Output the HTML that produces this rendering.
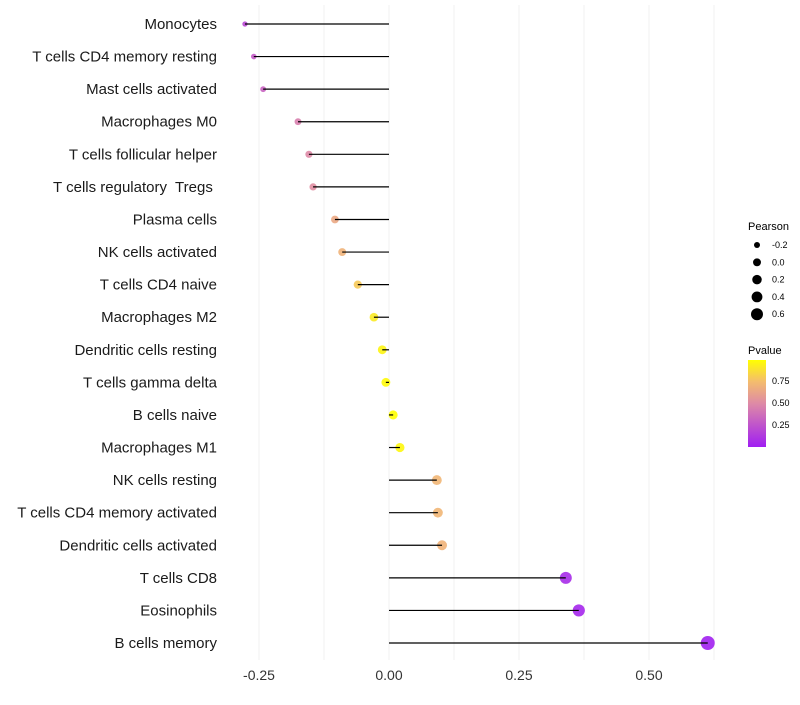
<!DOCTYPE html>
<html><head><meta charset="utf-8"><style>
body{margin:0;background:#fff;font-family:"Liberation Sans",sans-serif}
text{white-space:pre}
</style></head><body>
<svg id="chart" width="800" height="700" xmlns="http://www.w3.org/2000/svg">
<defs><linearGradient id="pg" x1="0" y1="1" x2="0" y2="0">
<stop offset="0" stop-color="#a01ef2"/><stop offset="0.5" stop-color="#de8aa6"/><stop offset="0.75" stop-color="#f4bc6e"/><stop offset="1" stop-color="#ffff00"/></linearGradient></defs>
<g id="grid"></g><g id="marks"></g><g id="labels"></g>
<g font-size="9">
<text x="748" y="230" font-size="11">Pearson</text>
<g id="sizeleg"></g>
<text x="748" y="354" font-size="11">Pvalue</text>
<rect x="748" y="360" width="18" height="87" fill="url(#pg)"/>
<text x="772" y="384">0.75</text>
<text x="772" y="406">0.50</text>
<text x="772" y="428">0.25</text>
</g>
</svg>
<script>
const categories=["Monocytes","T cells CD4 memory resting","Mast cells activated","Macrophages M0","T cells follicular helper","T cells regulatory  Tregs ","Plasma cells","NK cells activated","T cells CD4 naive","Macrophages M2","Dendritic cells resting","T cells gamma delta","B cells naive","Macrophages M1","NK cells resting","T cells CD4 memory activated","Dendritic cells activated","T cells CD8","Eosinophils","B cells memory"];
const pearson=[-0.277,-0.26,-0.242,-0.175,-0.154,-0.146,-0.104,-0.09,-0.06,-0.029,-0.013,-0.006,0.008,0.021,0.092,0.094,0.102,0.34,0.365,0.613];
const pvalues=[0.2,0.28,0.32,0.45,0.5,0.52,0.65,0.7,0.8,0.92,0.96,0.98,1.0,0.97,0.72,0.72,0.7,0.06,0.04,0.01];
const xTicks=[-0.25,0,0.25,0.5];
const xTickLabels=["-0.25","0.00","0.25","0.50"];
const sizeLegendVals=[-0.2,0,0.2,0.4,0.6];
const NS="http://www.w3.org/2000/svg";
const xs=v=>389+v*520;
const ys=i=>24+i*(619/19);
const rad=v=>Math.sqrt(Math.max(3,20+47*v));
const lrad=v=>Math.sqrt(Math.max(2,15.75+33.75*v));
function col(p){const st=[[0,[160,30,242]],[0.5,[222,138,166]],[0.75,[244,188,110]],[1,[255,255,0]]];
for(let k=1;k<st.length;k++){if(p<=st[k][0]){const a=st[k-1],b=st[k],t=(p-a[0])/(b[0]-a[0]);return `rgb(${a[1].map((c,j)=>Math.round(c+(b[1][j]-c)*t)).join(',')})`;}}return 'rgb(255,255,0)';}
function mk(tag,at,par){const e=document.createElementNS(NS,tag);for(const k in at)e.setAttribute(k,at[k]);par.appendChild(e);return e;}
const grid=document.getElementById('grid'),marks=document.getElementById('marks'),labels=document.getElementById('labels');
for(let v=-0.25;v<=0.625;v+=0.125){const x=xs(v);
const l=mk('line',{x1:x,x2:x,y1:5,y2:660,stroke:'#f0f0f0','stroke-width':1},grid);

}
xTicks.forEach((v,i)=>{const t=mk('text',{x:xs(v),y:680,'text-anchor':'middle','font-size':14,fill:'#333'},labels);t.textContent=xTickLabels[i];

});
categories.forEach((c,i)=>{const y=ys(i);
const t=mk('text',{x:217,y:y+5,'text-anchor':'end','font-size':15,fill:'#1a1a1a'},labels);t.textContent=c;


const d=mk('circle',{cx:xs(pearson[i]),cy:y,r:rad(pearson[i]),fill:col(pvalues[i]),'fill-opacity':0.9},marks);


const l=mk('line',{x1:xs(0),x2:xs(pearson[i]),y1:y,y2:y,stroke:'#000','stroke-width':1.2},marks);

});
const sl=document.getElementById('sizeleg');
sizeLegendVals.forEach((v,i)=>{const y=245+i*17.3;
const d=mk('circle',{cx:757,cy:y,r:lrad(v),fill:'#000'},sl);


const t=mk('text',{x:772,y:y+3},sl);t.textContent=v.toFixed(1);

});
</script>
</body></html>
